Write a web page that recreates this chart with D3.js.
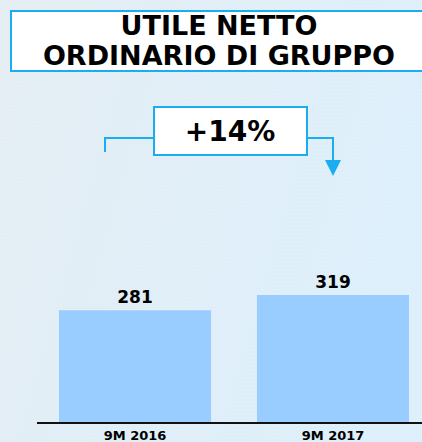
<!DOCTYPE html>
<html>
<head>
<meta charset="utf-8">
<script src="https://cdn.jsdelivr.net/npm/d3@7"></script>
<style>
  html, body { margin: 0; padding: 0; background: #fff; }
  svg { display: block; }
</style>
</head>
<body>
<svg id="chart"></svg>
<script>
// Chart data
const categories = ["9M 2016", "9M 2017"];
const values = [281, 319];
const titleLines = ["UTILE NETTO", "ORDINARIO DI GRUPPO"];
const growthLabel = "+14%";

const width = 422;
const height = 442;
const font = "Verdana, 'DejaVu Sans', sans-serif";
const accent = "#1aaef0";

const svg = d3.select("#chart")
  .attr("width", width)
  .attr("height", height);

const defs = svg.append("defs");

// Background gradient
const grad = defs.append("linearGradient")
  .attr("id", "bg")
  .attr("x1", 0).attr("y1", 0)
  .attr("x2", 1).attr("y2", 0.3);
grad.append("stop").attr("offset", 0).attr("stop-color", "#e4edf3");
grad.append("stop").attr("offset", 1).attr("stop-color", "#ddeffb");

// Fine dot texture
const pat = defs.append("pattern")
  .attr("id", "dots")
  .attr("width", 4).attr("height", 4)
  .attr("patternUnits", "userSpaceOnUse");
pat.append("rect")
  .attr("x", 1).attr("y", 1)
  .attr("width", 1).attr("height", 1)
  .attr("fill", "#ffffff")
  .attr("opacity", 0.35);

svg.append("rect").attr("width", width).attr("height", height).attr("fill", "url(#bg)");
svg.append("rect").attr("width", width).attr("height", height).attr("fill", "url(#dots)");

// Title box
svg.append("rect")
  .attr("x", 11).attr("y", 11)
  .attr("width", 420).attr("height", 60)
  .attr("fill", "#fff")
  .attr("stroke", accent)
  .attr("stroke-width", 2);

svg.append("g")
  .selectAll("text")
  .data(titleLines)
  .join("text")
  .attr("x", 219)
  .attr("y", (d, i) => 35 + i * 30)
  .attr("text-anchor", "middle")
  .style("font-family", font)
  .style("font-weight", "bold")
  .style("font-size", "27px")
  .style("fill", "#000")
  .text((d) => d);

// Scales
const x = d3.scaleBand()
  .domain(categories)
  .range([36, 432])
  .paddingInner(0.232)
  .paddingOuter(0.116);

const y = d3.scaleLinear()
  .domain([0, 319])
  .range([423, 295]);

// Bars
svg.append("g")
  .selectAll("rect")
  .data(values)
  .join("rect")
  .attr("x", (d, i) => x(categories[i]))
  .attr("y", (d) => y(d))
  .attr("width", x.bandwidth())
  .attr("height", (d) => y(0) - y(d))
  .attr("fill", "#99ccff");

// Value labels
svg.append("g")
  .selectAll("text")
  .data(values)
  .join("text")
  .attr("x", (d, i) => x(categories[i]) + x.bandwidth() / 2)
  .attr("y", (d) => y(d) - 7)
  .attr("text-anchor", "middle")
  .style("font-family", font)
  .style("font-weight", "bold")
  .style("font-size", "17px")
  .text((d) => d);

// Baseline
svg.append("line")
  .attr("x1", 37).attr("x2", width)
  .attr("y1", y(0)).attr("y2", y(0))
  .attr("stroke", "#111")
  .attr("stroke-width", 2);

// Category labels
svg.append("g")
  .selectAll("text")
  .data(categories)
  .join("text")
  .attr("x", (d) => x(d) + x.bandwidth() / 2)
  .attr("y", 440)
  .attr("text-anchor", "middle")
  .style("font-family", font)
  .style("font-weight", "bold")
  .style("font-size", "13px")
  .text((d) => d);

// Growth connector
const cx1 = x(categories[0]) + x.bandwidth() / 2 - 30;
const cx2 = x(categories[1]) + x.bandwidth() / 2;

svg.append("path")
  .attr("d", `M${cx1},152 V138 H154 M307,138 H${cx2} V163`)
  .attr("fill", "none")
  .attr("stroke", accent)
  .attr("stroke-width", 2);

svg.append("path")
  .attr("d", `M${cx2 - 8},160 H${cx2 + 8} L${cx2},176 Z`)
  .attr("fill", accent);

svg.append("rect")
  .attr("x", 154).attr("y", 107)
  .attr("width", 153).attr("height", 48)
  .attr("fill", "#fff")
  .attr("stroke", accent)
  .attr("stroke-width", 2);

svg.append("text")
  .attr("x", 230).attr("y", 141)
  .attr("text-anchor", "middle")
  .style("font-family", font)
  .style("font-weight", "bold")
  .style("font-size", "28px")
  .text(growthLabel);
</script>
</body>
</html>
